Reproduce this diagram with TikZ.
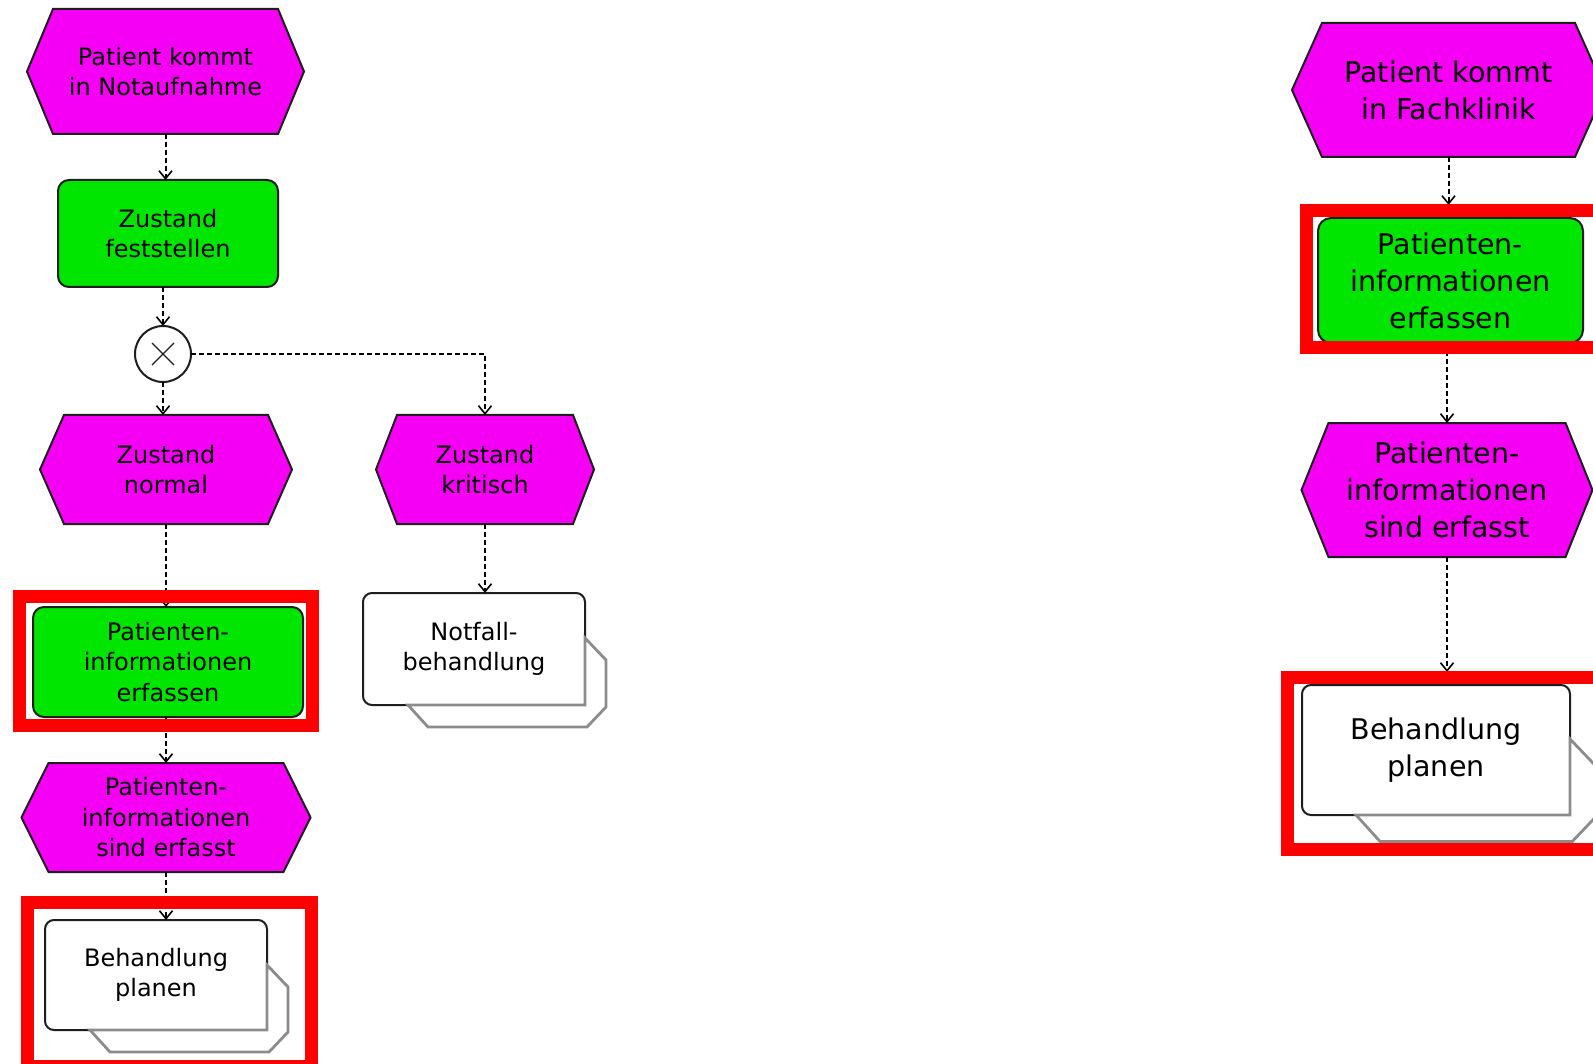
\documentclass[tikz,border=0pt]{standalone}
\usepackage{fontspec}
\setmainfont{DejaVu Sans}
\usetikzlibrary{arrows.meta,backgrounds,calc}

\definecolor{evfill}{RGB}{245,0,245}
\definecolor{fnfill}{RGB}{0,230,0}
\definecolor{hl}{RGB}{255,0,0}
\definecolor{edge}{RGB}{30,30,30}
\definecolor{cardgray}{RGB}{140,140,140}

\tikzset{
  every node/.style={inner sep=0pt, outer sep=0pt, align=center},
  smalltxt/.style={font=\fontsize{24}{30.5}\selectfont},
  largetxt/.style={font=\fontsize{28.5}{37}\selectfont},
  evbox/.style={rectangle},
  fnbox/.style={draw=edge, line width=2pt, fill=fnfill, rounded corners=11pt},
  pibox/.style={fill=white, rounded corners=9pt},
  flow/.style={draw=black, line width=2pt, dash pattern=on 5pt off 3pt,
    -{Straight Barb[length=8pt,width=13pt,line width=1.6pt]}},
  hlframe/.style={draw=hl, line width=13pt},
}

% hexagonal event outline behind a text node: #1 node name, #2 side inset
\newcommand\evhex[2]{%
  \begin{pgfonlayer}{background}
    \draw[draw=edge, line width=2pt, fill=evfill, line join=miter]
      (#1.north west) -- (#1.north east) -- ($(#1.east)+(#2,0)$)
      -- (#1.south east) -- (#1.south west) -- ($(#1.west)-(#2,0)$) -- cycle;
  \end{pgfonlayer}}

% process interface: outline of the front card and the card behind it
% #1 node name, #2 scale of the offsets
\newcommand\picard[2]{%
  \draw[edge, line width=2pt, rounded corners=9pt]
    ($(#1.south west)+({45*#2},0)$) -- (#1.south west) -- (#1.north west)
    -- (#1.north east) -- ($(#1.north east)+(0,{45*#2})$);
  \draw[cardgray, line width=2.8pt, line join=miter]
    ($(#1.north east)+(0,{45*#2})$) -- ($(#1.north east)+({21*#2},{67*#2})$)
    -- ($(#1.south east)+({21*#2},{2*#2})$) -- ($(#1.south east)+({2*#2},{22*#2})$)
    -- ($(#1.south west)+({65*#2},{22*#2})$) -- ($(#1.south west)+({45*#2},0)$)
    -- (#1.south east) -- cycle;}

\begin{document}
\begin{tikzpicture}[x=1pt,y=-1pt]
  \useasboundingbox (0,0) rectangle (1593,1064);
  \clip (0,0) rectangle (1593,1064);
  \begin{pgfonlayer}{background}
    \fill[white] (0,0) rectangle (1593,1064);
  \end{pgfonlayer}

  % ---------- emergency ward ----------
  \node[evbox, smalltxt, minimum width=225pt, minimum height=125pt] (e1) at (165.5,71.5)
    {Patient kommt\\in Notaufnahme};
  \evhex{e1}{26}

  \node[fnbox, smalltxt, minimum width=220pt, minimum height=107pt] (f1) at (168,233.5)
    {Zustand\\feststellen};

  \node[circle, draw=edge, line width=2pt, fill=white, minimum size=56pt] (xor) at (163,354) {};
  \draw[edge, line width=1.4pt] ($(xor.center)+(-11,-11)$) -- ($(xor.center)+(11,11)$);
  \draw[edge, line width=1.4pt] ($(xor.center)+(-11,11)$) -- ($(xor.center)+(11,-11)$);

  \node[evbox, smalltxt, minimum width=204pt, minimum height=109pt] (en) at (166,469.5)
    {Zustand\\normal};
  \evhex{en}{24}

  \node[evbox, smalltxt, minimum width=176pt, minimum height=109pt] (ek) at (485,469.5)
    {Zustand\\kritisch};
  \evhex{ek}{21}

  \node[fnbox, smalltxt, minimum width=270pt, minimum height=110pt] (f2) at (168,662)
    {Patienten-\\informationen\\erfassen};

  \node[evbox, smalltxt, minimum width=235pt, minimum height=109pt] (e3) at (166,817.5)
    {Patienten-\\informationen\\sind erfasst};
  \evhex{e3}{27}

  \node[pibox, smalltxt, minimum width=222pt, minimum height=110pt] (p1) at (156,975)
    {Behandlung\\planen};
  \picard{p1}{1}

  \node[pibox, smalltxt, minimum width=222pt, minimum height=112pt] (p2) at (474,649)
    {Notfall-\\behandlung};
  \picard{p2}{1}

  \draw[flow] (e1.south) -- (e1.south |- f1.north);
  \draw[flow] (xor.north |- f1.south) -- (xor.north);
  \draw[flow] (xor.south) -- (xor.south |- en.north);
  \draw[flow] (xor.east) -| (ek.north);
  \draw[flow] (en.south) -- (en.south |- f2.north);
  \draw[flow] (e3.north |- f2.south) -- (e3.north);
  \draw[flow] (e3.south) -- (e3.south |- p1.north);
  \draw[flow] (ek.south) -- (ek.south |- p2.north);

  % ---------- specialist clinic ----------
  \node[evbox, largetxt, minimum width=253pt, minimum height=134pt] (r1) at (1448.5,90)
    {Patient kommt\\in Fachklinik};
  \evhex{r1}{30}

  \node[fnbox, largetxt, minimum width=265pt, minimum height=125pt, rounded corners=13pt] (f3) at (1450.5,280.5)
    {Patienten-\\informationen\\erfassen};

  \node[evbox, largetxt, minimum width=237pt, minimum height=134pt] (r2) at (1447,490)
    {Patienten-\\informationen\\sind erfasst};
  \evhex{r2}{27}

  \node[pibox, largetxt, minimum width=268pt, minimum height=130pt, rounded corners=10pt] (p3) at (1436,750)
    {Behandlung\\planen};
  \picard{p3}{1.2}

  % arrow ends on the outer edge of the highlight frames
  \coordinate (f3in) at ($(r1.south |- f3.north)+(0,-13)$);
  \coordinate (p3in) at ($(r2.south |- p3.north)+(0,-13)$);

  \draw[flow] (r1.south) -- (f3in);
  \draw[flow] (r2.north |- f3.south) -- (r2.north);
  \draw[flow] (r2.south) -- (p3in);

  % ---------- highlight frames ----------
  \draw[hlframe] (19.5,596.5) rectangle (312.5,725.5);
  \draw[hlframe] (27,902.5) rectangle (311.5,1066.5);
  \draw[hlframe] (1306.5,210.5) rectangle (1620,347.5);
  \draw[hlframe] (1287.5,677.5) rectangle (1630,849.5);
\end{tikzpicture}
\end{document}
